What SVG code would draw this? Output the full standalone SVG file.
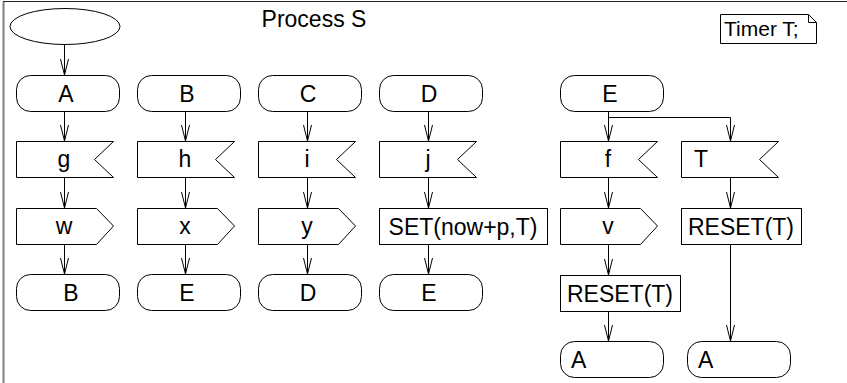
<svg xmlns="http://www.w3.org/2000/svg" width="847" height="383" viewBox="0 0 847 383">
<style>
.s{fill:#fff;stroke:#000;stroke-width:1}
.t{font-family:"Liberation Sans",Arial,sans-serif;font-size:23px;fill:#000}
.c{text-anchor:middle}
.e{fill:none;stroke:#000;stroke-width:1}
</style>
<defs>
<marker id="v" markerUnits="userSpaceOnUse" markerWidth="20" markerHeight="12" viewBox="-17 -6 20 12" refX="0" refY="0" orient="auto" overflow="visible">
<path d="M-16,-4 L0,0 L-16,4" fill="none" stroke="#000" stroke-width="1"/>
</marker>
</defs>
<rect width="847" height="383" fill="#fff"/>
<path d="M3.5,383 V2" stroke="#808080" stroke-width="2" fill="none"/>
<path d="M3,1.5 H847" stroke="#222" stroke-width="1" fill="none"/>
<text class="t c" x="314" y="27">Process S</text>
<g id="note">
<path class="s" d="M720.5,14.5 H808.5 L816.5,22.5 V43.5 H720.5 Z"/>
<path class="e" d="M808.5,14.5 V22.5 H816.5"/>
<text class="t" x="724" y="36" style="font-size:21px">Timer T;</text>
</g>
<g id="start"><ellipse class="s" cx="65" cy="26.5" rx="55" ry="18"/></g>

<g id="A1"><rect class="s" x="16.5" y="75.5" width="103" height="36" rx="14"/><text class="t c" x="66" y="101.5">A</text></g>
<g id="g"><path class="s" d="M16.5,141.5 H113.5 L94.5,159.5 L113.5,177.5 H16.5 Z"/><text class="t c" x="64" y="167">g</text></g>
<g id="w"><path class="s" d="M16.5,208.5 H96.5 L113.5,226 L96.5,244.5 H16.5 Z"/><text class="t c" x="64" y="234">w</text></g>
<g id="B2"><rect class="s" x="16.5" y="274.5" width="103" height="36" rx="14"/><text class="t c" x="71" y="300.5">B</text></g>

<g id="B1"><rect class="s" x="137.5" y="75.5" width="103" height="36" rx="14"/><text class="t c" x="187" y="101.5">B</text></g>
<g id="h"><path class="s" d="M137.5,141.5 H234.5 L215.5,159.5 L234.5,177.5 H137.5 Z"/><text class="t c" x="185" y="167">h</text></g>
<g id="x"><path class="s" d="M137.5,208.5 H217.5 L234.5,226 L217.5,244.5 H137.5 Z"/><text class="t c" x="185" y="234">x</text></g>
<g id="E2"><rect class="s" x="137.5" y="274.5" width="103" height="36" rx="14"/><text class="t c" x="187" y="300.5">E</text></g>

<g id="C1"><rect class="s" x="258.5" y="75.5" width="103" height="36" rx="14"/><text class="t c" x="308" y="101.5">C</text></g>
<g id="i"><path class="s" d="M258.5,141.5 H355.5 L336.5,159.5 L355.5,177.5 H258.5 Z"/><text class="t c" x="307" y="167">i</text></g>
<g id="y"><path class="s" d="M258.5,208.5 H338.5 L355.5,226 L338.5,244.5 H258.5 Z"/><text class="t c" x="307" y="234">y</text></g>
<g id="D2"><rect class="s" x="258.5" y="274.5" width="103" height="36" rx="14"/><text class="t c" x="308" y="300.5">D</text></g>

<g id="D1"><rect class="s" x="379.5" y="75.5" width="103" height="36" rx="14"/><text class="t c" x="429" y="101.5">D</text></g>
<g id="j"><path class="s" d="M379.5,141.5 H476.5 L457.5,159.5 L476.5,177.5 H379.5 Z"/><text class="t c" x="428" y="167">j</text></g>
<g id="set"><rect class="s" x="379.5" y="208.5" width="168" height="36"/><text class="t c" x="463" y="234.5">SET(now+p,T)</text></g>
<g id="E3"><rect class="s" x="379.5" y="274.5" width="103" height="36" rx="14"/><text class="t c" x="429" y="300.5">E</text></g>

<g id="E1"><rect class="s" x="560.5" y="75.5" width="103" height="36" rx="14"/><text class="t c" x="610" y="101.5">E</text></g>
<g id="f"><path class="s" d="M560.5,141.5 H657.5 L638.5,159.5 L657.5,177.5 H560.5 Z"/><text class="t c" x="608" y="167">f</text></g>
<g id="v"><path class="s" d="M560.5,208.5 H640.5 L657.5,226 L640.5,244.5 H560.5 Z"/><text class="t c" x="608" y="234">v</text></g>
<g id="reset1"><rect class="s" x="560.5" y="275.5" width="120" height="36"/><text class="t c" x="620" y="301.5">RESET(T)</text></g>
<g id="A2"><rect class="s" x="560.5" y="341.5" width="103" height="36" rx="14"/><text class="t" x="571" y="367.5">A</text></g>

<g id="T"><path class="s" d="M681.5,141.5 H778.5 L759.5,159.5 L778.5,177.5 H681.5 Z"/><text class="t" x="694" y="167">T</text></g>
<g id="reset2"><rect class="s" x="681.5" y="208.5" width="120" height="36"/><text class="t c" x="741" y="234.5">RESET(T)</text></g>
<g id="A3"><rect class="s" x="687.5" y="341.5" width="103" height="36" rx="14"/><text class="t" x="698" y="367.5">A</text></g>

<g id="connectors" class="e" marker-end="url(#v)">
<path d="M64.5,44.5 V75"/>
<path d="M64.5,111.5 V141"/>
<path d="M64.5,177.5 V208"/>
<path d="M64.5,244.5 V274"/>
<path d="M185.5,111.5 V141"/>
<path d="M185.5,177.5 V208"/>
<path d="M185.5,244.5 V274"/>
<path d="M307.5,111.5 V141"/>
<path d="M307.5,177.5 V208"/>
<path d="M307.5,244.5 V274"/>
<path d="M428.5,111.5 V141"/>
<path d="M428.5,177.5 V208"/>
<path d="M428.5,244.5 V274"/>
<path d="M608.5,111.5 V141"/>
<path d="M608.5,117.5 H730.5 V141"/>
<path d="M608.5,177.5 V208"/>
<path d="M608.5,244.5 V275"/>
<path d="M608.5,311.5 V341"/>
<path d="M730.5,177.5 V208"/>
<path d="M730.5,244.5 V341"/>
</g>
</svg>
